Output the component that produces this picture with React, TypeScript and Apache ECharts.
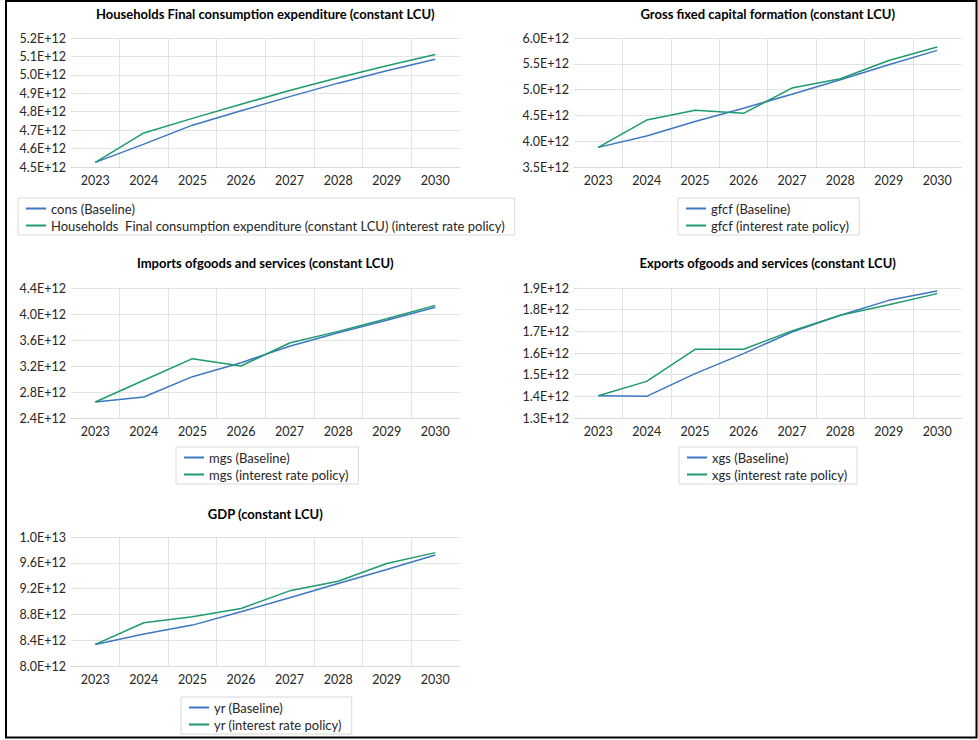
import React, { useEffect, useRef } from "react";
import * as echarts from "echarts";

// Projection years shared by every panel
const years = ["2023", "2024", "2025", "2026", "2027", "2028", "2029", "2030"];

// Households final consumption expenditure (constant LCU)
const consBaseline = [4.525e12, 4.624e12, 4.727e12, 4.805e12, 4.882e12, 4.955e12, 5.022e12, 5.085e12];
const consPolicy = [4.525e12, 4.685e12, 4.764e12, 4.84e12, 4.915e12, 4.984e12, 5.049e12, 5.111e12];

// Gross fixed capital formation (constant LCU)
const gfcfBaseline = [3.88e12, 4.1e12, 4.38e12, 4.64e12, 4.91e12, 5.19e12, 5.48e12, 5.76e12];
const gfcfPolicy = [3.88e12, 4.41e12, 4.6e12, 4.54e12, 5.03e12, 5.21e12, 5.565e12, 5.825e12];

// Imports of goods and services (constant LCU)
const mgsBaseline = [2.646e12, 2.723e12, 3.036e12, 3.251e12, 3.503e12, 3.713e12, 3.903e12, 4.103e12];
const mgsPolicy = [2.646e12, 2.98e12, 3.313e12, 3.2e12, 3.554e12, 3.733e12, 3.928e12, 4.133e12];

// Exports of goods and services (constant LCU)
const xgsBaseline = [1.403e12, 1.4e12, 1.505e12, 1.597e12, 1.697e12, 1.774e12, 1.843e12, 1.886e12];
const xgsPolicy = [1.403e12, 1.469e12, 1.617e12, 1.617e12, 1.702e12, 1.774e12, 1.823e12, 1.874e12];

// GDP (constant LCU)
const yrBaseline = [8.335e12, 8.495e12, 8.634e12, 8.84e12, 9.057e12, 9.278e12, 9.495e12, 9.722e12];
const yrPolicy = [8.335e12, 8.67e12, 8.763e12, 8.892e12, 9.165e12, 9.314e12, 9.588e12, 9.758e12];

// Panel titles and series names
const titles = [
  "Households Final consumption expenditure (constant LCU)",
  "Gross fixed capital formation (constant LCU)",
  "Imports ofgoods and services (constant LCU)",
  "Exports ofgoods and services (constant LCU)",
  "GDP (constant LCU)",
];
const baselineNames = ["cons (Baseline)", "gfcf (Baseline)", "mgs (Baseline)", "xgs (Baseline)", "yr (Baseline)"];
const policyNames = [
  "Households  Final consumption expenditure (constant LCU) (interest rate policy)",
  "gfcf (interest rate policy)",
  "mgs (interest rate policy)",
  "xgs (interest rate policy)",
  "yr (interest rate policy)",
];
const baselineData = [consBaseline, gfcfBaseline, mgsBaseline, xgsBaseline, yrBaseline];
const policyData = [consPolicy, gfcfPolicy, mgsPolicy, xgsPolicy, yrPolicy];

// Value-axis scales per panel
const yMin = [4.5e12, 3.5e12, 2.4e12, 1.3e12, 8.0e12];
const yMax = [5.2e12, 6.0e12, 4.4e12, 1.9e12, 1.0e13];
const yStep = [1e11, 5e11, 4e11, 1e11, 4e11];

// Panel geometry (plot rectangles, title centres, legend corners)
const layout = [
  { left: 71, top: 38, width: 388.6, height: 129, titleY: 14, legendLeft: 18, legendTop: 198 },
  { left: 574, top: 38, width: 387.4, height: 129, titleY: 14, legendLeft: 678, legendTop: 198 },
  { left: 71, top: 288, width: 388.6, height: 130, titleY: 263, legendLeft: 176, legendTop: 447 },
  { left: 574, top: 288, width: 387.4, height: 130, titleY: 263, legendLeft: 679, legendTop: 447 },
  { left: 71, top: 537, width: 388.6, height: 129, titleY: 514, legendLeft: 181, legendTop: 697 },
];

const FONT = "Lato, 'Open Sans', sans-serif";
const BLUE = "#3D77C2";
const GREEN = "#1E9A6F";
const GRID_LINE = "#E3E3E3";
const TEXT = "#262626";

function sci(v: number): string {
  if (v === 0) return "0";
  const e = Math.floor(Math.log10(v) + 1e-9);
  const m = v / Math.pow(10, e);
  return m.toFixed(1) + "E+" + e;
}

export default function App() {
  const ref = useRef<HTMLDivElement>(null);

  useEffect(() => {
    if (!ref.current) return;
    const chart = echarts.init(ref.current, undefined, { renderer: "svg" });

    const grid: any[] = [];
    const xAxis: any[] = [];
    const yAxis: any[] = [];
    const series: any[] = [];
    const legend: any[] = [];
    const graphic: any[] = [];

    layout.forEach((p, i) => {
      grid.push({ left: p.left, top: p.top, width: p.width, height: p.height, containLabel: false });
      xAxis.push({
        type: "category",
        gridIndex: i,
        data: years,
        boundaryGap: true,
        axisLine: { show: true, lineStyle: { color: "#D9D9D9", width: 1 } },
        axisTick: { show: false },
        axisLabel: { color: TEXT, fontFamily: FONT, fontSize: 12.5, margin: 7 },
        splitLine: {
          show: true,
          showMinLine: false,
          showMaxLine: false,
          lineStyle: { color: GRID_LINE, width: 1 },
        },
      });
      yAxis.push({
        type: "value",
        gridIndex: i,
        min: yMin[i],
        max: yMax[i],
        interval: yStep[i],
        axisLine: { show: false },
        axisTick: { show: false },
        axisLabel: { color: TEXT, fontFamily: FONT, fontSize: 12.5, margin: 5, formatter: sci },
        splitLine: { show: true, lineStyle: { color: GRID_LINE, width: 1 } },
      });
      series.push({
        type: "line",
        name: baselineNames[i],
        xAxisIndex: i,
        yAxisIndex: i,
        data: baselineData[i],
        symbol: "none",
        color: BLUE,
        lineStyle: { color: BLUE, width: 1.5 },
      });
      series.push({
        type: "line",
        name: policyNames[i],
        xAxisIndex: i,
        yAxisIndex: i,
        data: policyData[i],
        symbol: "none",
        color: GREEN,
        lineStyle: { color: GREEN, width: 1.5 },
      });
      legend.push({
        data: [baselineNames[i], policyNames[i]],
        orient: "vertical",
        left: p.legendLeft,
        top: p.legendTop,
        padding: [4, 10, 3, 7],
        itemGap: 4,
        itemWidth: 20,
        itemHeight: 14,
        borderColor: "#D9D9D9",
        borderWidth: 1,
        selectedMode: false,
        // only the stroke is shown as the key, no marker
        itemStyle: { color: "transparent", borderColor: "transparent", borderWidth: 0, opacity: 0 },
        textStyle: { color: TEXT, fontFamily: FONT, fontSize: 13 },
      });
      graphic.push({
        type: "text",
        x: p.left + p.width / 2,
        y: p.titleY,
        silent: true,
        style: {
          text: titles[i],
          align: "center",
          verticalAlign: "middle",
          fontFamily: FONT,
          fontSize: 13,
          fontWeight: "bold",
          fill: "#000",
        },
      });
    });

    // Frame around the whole figure
    graphic.push({
      type: "rect",
      silent: true,
      z: 100,
      shape: { x: 6, y: 1, width: 970.5, height: 736.5 },
      style: { fill: "none", stroke: "#000", lineWidth: 2 },
    });

    chart.setOption({
      animation: false,
      backgroundColor: "#fff",
      grid,
      xAxis,
      yAxis,
      series,
      legend,
      graphic,
    });

    return () => chart.dispose();
  }, []);

  return (
    <div
      ref={ref}
      style={{ position: "fixed", left: 0, top: 0, width: 978, height: 740, background: "#fff" }}
    />
  );
}
